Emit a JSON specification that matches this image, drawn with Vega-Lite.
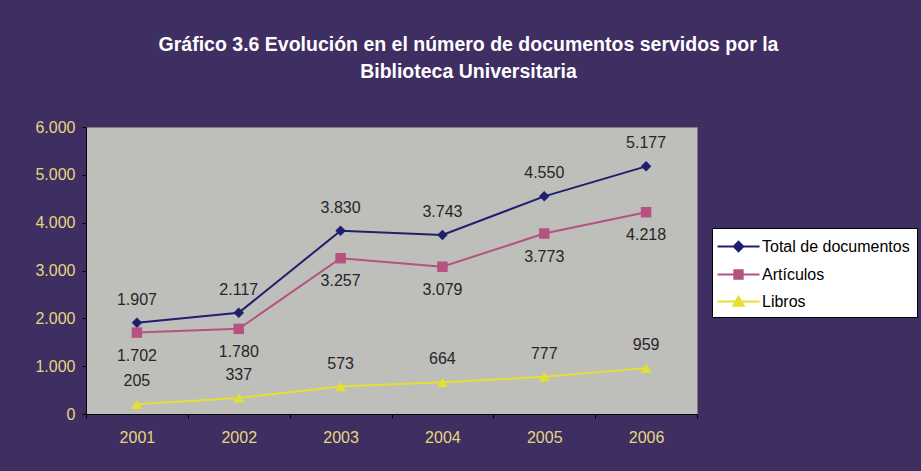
{
  "$schema": "https://vega.github.io/schema/vega-lite/v6.json",
  "width": 611,
  "height": 287,
  "autosize": {"type": "none"},
  "padding": {"left": 86, "top": 127, "right": 224, "bottom": 57},
  "background": "#3f2e62",
  "title": {
    "text": ["Gráfico 3.6 Evolución en el número de documentos servidos por la", "Biblioteca Universitaria"],
    "color": "white",
    "font": "Liberation Sans",
    "fontSize": 19.5,
    "fontWeight": "bold",
    "lineHeight": 27,
    "anchor": "middle",
    "frame": "group",
    "dx": 77,
    "offset": 37
  },
  "config": {
    "locale": {"number": {"decimal": ",", "thousands": ".", "grouping": [3], "currency": ["", " €"]}},
    "view": {"fill": "#bebebb", "stroke": "#808080", "strokeWidth": 1},
    "font": "Liberation Sans",
    "axis": {
      "labelColor": "#e6d67e",
      "labelFont": "Liberation Sans",
      "labelFontSize": 16,
      "domainColor": "black",
      "tickColor": "black",
      "tickSize": 4,
      "grid": false,
      "title": null
    }
  },
  "data": {
    "values": [
      {"year": "2001", "serie": "Total de documentos", "valor": 1907},
      {"year": "2002", "serie": "Total de documentos", "valor": 2117},
      {"year": "2003", "serie": "Total de documentos", "valor": 3830},
      {"year": "2004", "serie": "Total de documentos", "valor": 3743},
      {"year": "2005", "serie": "Total de documentos", "valor": 4550},
      {"year": "2006", "serie": "Total de documentos", "valor": 5177},
      {"year": "2001", "serie": "Artículos", "valor": 1702},
      {"year": "2002", "serie": "Artículos", "valor": 1780},
      {"year": "2003", "serie": "Artículos", "valor": 3257},
      {"year": "2004", "serie": "Artículos", "valor": 3079},
      {"year": "2005", "serie": "Artículos", "valor": 3773},
      {"year": "2006", "serie": "Artículos", "valor": 4218},
      {"year": "2001", "serie": "Libros", "valor": 205},
      {"year": "2002", "serie": "Libros", "valor": 337},
      {"year": "2003", "serie": "Libros", "valor": 573},
      {"year": "2004", "serie": "Libros", "valor": 664},
      {"year": "2005", "serie": "Libros", "valor": 777},
      {"year": "2006", "serie": "Libros", "valor": 959}
    ]
  },
  "encoding": {
    "x": {
      "field": "year", "type": "ordinal", "bandPosition": 0.5,
      "scale": {"type": "band", "paddingInner": 0, "paddingOuter": 0},
      "axis": {"labelAngle": 0, "tickBand": "extent", "labelPadding": 11}
    },
    "y": {
      "field": "valor", "type": "quantitative",
      "scale": {"domain": [0, 6000], "nice": false},
      "axis": {"values": [0, 1000, 2000, 3000, 4000, 5000, 6000], "format": ",d", "labelPadding": 7}
    }
  },
  "layer": [
    {
      "mark": {"type": "line", "strokeWidth": 2},
      "encoding": {
        "detail": {"field": "serie"},
        "stroke": {
          "field": "serie", "type": "nominal",
          "scale": {"domain": ["Total de documentos", "Artículos", "Libros"], "range": ["#1f1f6e", "#b5527f", "#e4e032"]}
        }
      }
    },
    {
      "transform": [{"filter": "datum.serie === 'Total de documentos'"}],
      "mark": {"type": "point", "shape": "diamond", "filled": true, "size": 110, "opacity": 1},
      "encoding": {"fill": {"field": "serie", "type": "nominal", "scale": {"domain": ["Total de documentos", "Artículos", "Libros"], "range": ["#1f1f6e", "#b5527f", "#e4e032"]}}}
    },
    {
      "transform": [{"filter": "datum.serie === 'Artículos'"}],
      "mark": {"type": "point", "shape": "square", "filled": true, "size": 110, "opacity": 1},
      "encoding": {"fill": {"field": "serie", "type": "nominal"}}
    },
    {
      "transform": [{"filter": "datum.serie === 'Libros'"}],
      "mark": {"type": "point", "shape": "triangle-up", "filled": true, "size": 120, "opacity": 1},
      "encoding": {"fill": {"field": "serie", "type": "nominal"}}
    },
    {
      "transform": [{"filter": "datum.serie !== 'Artículos'"}],
      "mark": {"type": "text", "baseline": "middle", "dy": -23, "fontSize": 16, "color": "#262626"},
      "encoding": {"text": {"field": "valor", "type": "quantitative", "format": ",d"}}
    },
    {
      "transform": [{"filter": "datum.serie === 'Artículos'"}],
      "mark": {"type": "text", "baseline": "middle", "dy": 23, "fontSize": 16, "color": "#262626"},
      "encoding": {"text": {"field": "valor", "type": "quantitative", "format": ",d"}}
    },
    {
      "mark": {"type": "point", "size": 0, "filled": true, "opacity": 1},
      "encoding": {
        "shape": {
          "field": "serie", "type": "nominal",
          "scale": {"domain": ["Total de documentos", "Artículos", "Libros"], "range": ["M-2,0H2M0,-0.45L0.45,0L0,0.45L-0.45,0Z", "M-2,0H2M-0.4,-0.4H0.4V0.4H-0.4Z", "M-2,0H2M0,-0.45L0.5,0.4H-0.5Z"]},
          "legend": {
            "title": null,
            "orient": "none",
            "legendX": 626,
            "legendY": 101,
            "fillColor": "white",
            "strokeColor": "black",
            "padding": 7,
            "symbolSize": 441,
            "symbolStrokeWidth": 2,
            "symbolOpacity": 1,
            "symbolOffset": 8,
            "labelOffset": 12,
            "labelFontSize": 16,
            "labelColor": "black",
            "labelLimit": 300,
            "rowPadding": 7
          }
        },
        "fill": {"field": "serie", "type": "nominal"},
        "stroke": {"field": "serie", "type": "nominal"}
      }
    }
  ]
}
